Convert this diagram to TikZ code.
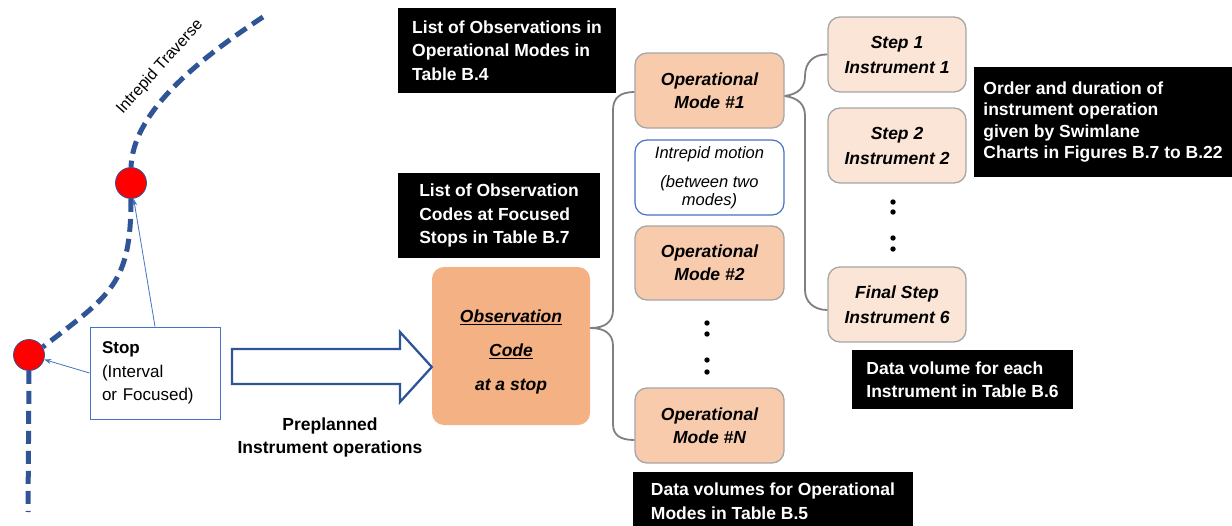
\documentclass[tikz,border=0pt]{standalone}
\usepackage{fontspec}
\setmainfont{Liberation Sans}
\usetikzlibrary{arrows.meta,calc}
\definecolor{trav}{RGB}{47,85,151}
\definecolor{stopblue}{RGB}{68,114,196}
\definecolor{obsfill}{RGB}{244,177,131}
\definecolor{modefill}{RGB}{248,203,173}
\definecolor{stepfill}{RGB}{251,229,214}
\definecolor{boxgray}{RGB}{166,166,166}
\definecolor{bracegray}{RGB}{127,127,127}
\begin{document}
\begin{tikzpicture}[x=1pt,y=-1pt,
  blackbox/.style={fill=black, text=white, font=\bfseries\fontsize{17.5}{23.5}\selectfont, align=left, inner ysep=0pt, inner xsep=0pt},
  modebox/.style={rounded corners=12, draw=boxgray, line width=1.3, fill=modefill, minimum width=149, minimum height=75, inner sep=0pt, font=\bfseries\itshape\fontsize{17.5}{23}\selectfont, align=center},
  stepbox/.style={rounded corners=12, draw=boxgray, line width=1.3, fill=stepfill, minimum width=138, minimum height=75, inner sep=0pt, font=\bfseries\itshape\fontsize{17.5}{25}\selectfont, align=center},
  trail/.style={draw=trav, line width=5, dash pattern=on 13pt off 7pt},
  stopdot/.style={circle, fill=red, draw=trav, line width=0.8, minimum size=31, inner sep=0pt},
  thinarrow/.style={draw=stopblue, line width=0.8, -{Stealth[length=7pt,width=5pt]}},
  brace/.style={draw=bracegray, line width=1.8},
  dot/.style={fill=black}
]
\useasboundingbox (0,0) rectangle (1232,525);

% traverse
\node[stopdot] (c1) at (131,183) {};
\node[stopdot] (c2) at (29,355) {};
\coordinate (tstart) at (263,17);
\coordinate (tend) at (28,512);
\draw[trail] (tstart) .. controls (190,65) and (133,115) .. (c1.north);
\draw[trail] (c1.south) .. controls (131,285) and (110,295) .. (c2.30);
\draw[trail] (c2.south) -- (tend);
\node[font=\fontsize{16}{18}\selectfont, rotate=48] (trlabel) at (160,67) {Intrepid Traverse};

% stop box
\node[draw=stopblue, line width=1, minimum width=130, minimum height=92, inner xsep=12, text width=106, align=left, font=\fontsize{17}{23.5}\selectfont] (stop) at (155,373) {\textbf{Stop}\\(Interval\\or Focused)};
\draw[thinarrow] (stop.north) -- (c1);
\draw[thinarrow] (stop.west) -- (c2);

% observation code box
\node[rounded corners=12, fill=obsfill, minimum width=158, minimum height=158, inner sep=0pt] (obs) at (511,346) {};
\node[font=\bfseries\itshape\fontsize{17.5}{34}\selectfont, align=center, inner sep=0pt] (obstext) at (511,352) {\underline{Observation}\\\underline{Code}\\at a stop};

% block arrow
\coordinate (tip) at (obs.west |- 0,367);
\draw[draw=trav, line width=2.3, fill=white, line join=miter]
  (232,349) -- (400,349) -- (400,332) -- (tip) -- (400,402) -- (400,384) -- (232,384) -- cycle;
\node[font=\bfseries\fontsize{17.5}{23}\selectfont, align=center] (prep) at (330,437) {Preplanned\\Instrument operations};

% operational modes
\node[modebox] (m1) at (709.5,90.5) {Operational\\Mode \#1};
\node[rounded corners=12, draw=stopblue, line width=1.2, fill=white, minimum width=149, minimum height=75, inner sep=0pt, font=\itshape\fontsize{16.5}{18}\selectfont, align=center] (im) at (709.5,177.5) {Intrepid motion\\[11pt](between two\\modes)};
\node[modebox, minimum height=74] (m2) at (709.5,263) {Operational\\Mode \#2};
\node[modebox] (mN) at (709.5,425.5) {Operational\\Mode \#N};
\foreach \yy in {323,334,360,372} \fill[dot] (707,\yy) circle (2.7);

% steps
\node[stepbox] (s1) at (897,54.5) {Step 1\\Instrument 1};
\node[stepbox] (s2) at (897,145.5) {Step 2\\Instrument 2};
\node[stepbox] (sF) at (897,304.5) {Final Step\\Instrument 6};
\foreach \yy in {202,212,238,249} \fill[dot] (893,\yy) circle (2.7);

% brace 1
\coordinate (b1) at (obs.east |- 0,328);
\draw[brace] (b1) .. controls (605,328) and (613,322) .. (613,310) -- (613,110)
  .. controls (613,98) and (620,92) .. (m1.west |- 0,92);
\draw[brace] (b1) .. controls (605,328) and (613,334) .. (613,346) -- (613,424)
  .. controls (613,435) and (620,440) .. (mN.west |- 0,440);

% brace 2
\coordinate (b2) at (m1.east |- 0,96);
\draw[brace] (b2) .. controls (799,94) and (805,87) .. (805,76)
  .. controls (805,62) and (814,54) .. (s1.west);
\draw[brace] (b2) .. controls (799,98) and (805,105) .. (805,116) -- (805,290)
  .. controls (805,302) and (814,310) .. (sF.west |- 0,310);

% black labels
\node[blackbox, minimum width=218, minimum height=85] (l1) at (507,50.5) {List of Observations in\\Operational Modes in\\Table B.4};
\node[blackbox, minimum width=202, minimum height=85] (l2) at (499,215.5) {List of Observation\\Codes at Focused\\Stops in Table B.7};
\node[blackbox, minimum width=258, minimum height=110, font=\bfseries\fontsize{17.5}{21.5}\selectfont] (l3) at (1103,122) {Order and duration of\\instrument operation\\given by Swimlane\\Charts in Figures B.7 to B.22};
\node[blackbox, minimum width=221, minimum height=59] (l4) at (962.5,379.5) {Data volume for each\\Instrument in Table B.6};
\node[blackbox, minimum width=280, minimum height=58] (l5) at (773,501) {Data volumes for Operational\\Modes in Table B.5};
\end{tikzpicture}
\end{document}
